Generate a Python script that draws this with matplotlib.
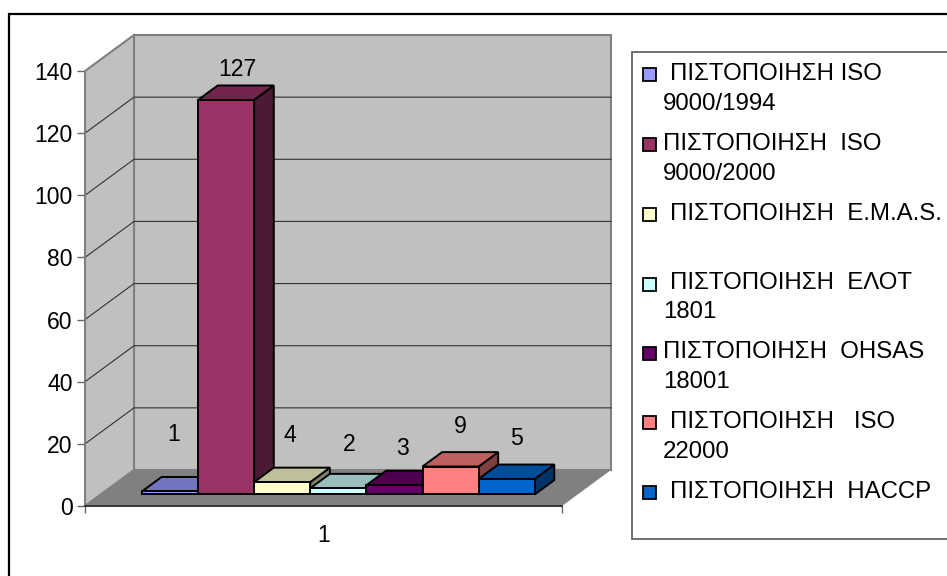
import matplotlib
matplotlib.use("Agg")
import matplotlib.pyplot as plt
from matplotlib.patches import Polygon, Rectangle

plt.rcParams['font.family'] = ['Liberation Sans', 'DejaVu Sans']

# data
values = [1, 127, 4, 2, 3, 9, 5]
face_colors = ['#9999FF', '#993366', '#FFFFCC', '#CCFFFF', '#660066', '#FF8080', '#0066CC']
top_colors = ['#7373BF', '#73264D', '#BFBF99', '#99BFBF', '#4D004D', '#BF6060', '#004D99']
side_colors = ['#4D4D80', '#4D1A33', '#808066', '#668080', '#330033', '#804040', '#003366']
y_ticks = [0, 20, 40, 60, 80, 100, 120, 140]
category = "1"
legend_lines = [
    ["ΠΙΣΤΟΠΟΙΗΣΗ ISO", "9000/1994"],
    ["ΠΙΣΤΟΠΟΙΗΣΗ  ISO", "9000/2000"],
    ["ΠΙΣΤΟΠΟΙΗΣΗ  E.M.A.S."],
    ["ΠΙΣΤΟΠΟΙΗΣΗ  ΕΛΟΤ", "1801"],
    ["ΠΙΣΤΟΠΟΙΗΣΗ  OHSAS", "18001"],
    ["ΠΙΣΤΟΠΟΙΗΣΗ   ISO", "22000"],
    ["ΠΙΣΤΟΠΟΙΗΣΗ  HACCP"],
]

# layout, pixels of the 947x576 picture
W, H = 947, 576
font_size = 16.6
legend_font_size = 17.3
front_left, front_right = 85, 562
front_bottom, front_top = 506, 71
depth_px_x, depth_px_y = 49, 36
bar_px = 56.1
first_bar_px = 142
bar_depth = (0.32, 0.72)
# labels were moved by hand in the original, offsets from the bar's back top edge
label_dx = [-16, -8, -12, -9, -12, -10, -10]
label_dy = [42, 16, 32, 29, 22, 26, 26]
legend_swatch_y = [74, 144, 214, 284, 353, 422, 492]
legend_text_x = [670, 663, 670, 670, 663, 670, 670]
legend_text_y = [74, 144, 214, 283, 352, 422, 492]
legend_line_gap = 29.5

fig = plt.figure(figsize=(W / 100, H / 100), dpi=100)

# page layer in pixel coordinates: frame and legend box
page = fig.add_axes([0, 0, 1, 1])
page.set_xlim(0, W)
page.set_ylim(H, 0)
page.axis("off")
page.add_patch(Rectangle((9, 14), W + 20, H + 20, fc='white', ec='black', lw=1.6, clip_on=False))
page.add_patch(Rectangle((632, 52), W, 487, fc='white', ec='#666666', lw=1.3, clip_on=False))

ax = fig.add_axes([front_left / W, 1 - front_bottom / H,
                   (front_right - front_left) / W, (front_bottom - front_top) / H])
px_y = (front_bottom - front_top) / 140.0
x_min = -(first_bar_px - front_left - bar_depth[0] * depth_px_x) / bar_px
x_max = x_min + (front_right - front_left) / bar_px
ax.set_xlim(x_min, x_max)
ax.set_ylim(0, 140)
ax.patch.set_visible(False)


def proj(x, v, d):
    # x in bar units, v in chart units, d is depth 0..1
    return (x + d * depth_px_x / bar_px, v + d * depth_px_y / px_y)


def poly(pts, fc, ec, lw, z=1):
    ax.add_patch(Polygon(pts, closed=True, fc=fc, ec=ec, lw=lw, clip_on=False,
                         joinstyle='miter', zorder=z))


# walls and floor
poly([proj(x_min, 0, 1), proj(x_max, 0, 1), proj(x_max, 140, 1), proj(x_min, 140, 1)],
     '#C0C0C0', '#808080', 1.5)
poly([proj(x_min, 0, 0), proj(x_min, 0, 1), proj(x_min, 140, 1), proj(x_min, 140, 0)],
     '#C0C0C0', '#808080', 1.5)
poly([proj(x_min, 0, 0), proj(x_max, 0, 0), proj(x_max, 0, 1), proj(x_min, 0, 1)],
     '#808080', 'none', 0)

for t in y_ticks[1:-1]:
    pts = [proj(x_min, t, 0), proj(x_min, t, 1), proj(x_max, t, 1)]
    ax.plot([p[0] for p in pts], [p[1] for p in pts], color='#333333', lw=0.8, zorder=1.5, clip_on=False)

# bars, left to right so later ones cover the earlier ones
d0, d1 = bar_depth
for i, v in enumerate(values):
    l, r = i, i + 1
    poly([proj(r, 0, d0), proj(r, 0, d1), proj(r, v, d1), proj(r, v, d0)],
         side_colors[i], 'black', 1.4, 2 + i * 0.1)
    poly([proj(l, v, d0), proj(r, v, d0), proj(r, v, d1), proj(l, v, d1)],
         top_colors[i], 'black', 1.4, 2 + i * 0.1)
    poly([proj(l, 0, d0), proj(r, 0, d0), proj(r, v, d0), proj(l, v, d0)],
         face_colors[i], 'black', 1.4, 2 + i * 0.1)
    xa, ya = proj(i + 0.5, v, d1)
    ax.annotate(str(v), (xa, ya), xytext=(label_dx[i] * 0.72, label_dy[i] * 0.72),
                textcoords='offset points', ha='center', va='center',
                fontsize=font_size, color='black', zorder=5, annotation_clip=False)

# axes lines and ticks
for s in ('top', 'right'):
    ax.spines[s].set_visible(False)
ax.spines['left'].set_color('#808080')
ax.spines['left'].set_linewidth(1.2)
ax.spines['left'].set_zorder(1.6)
ax.spines['bottom'].set_color('#333333')
ax.spines['bottom'].set_linewidth(1.4)
ax.spines['bottom'].set_zorder(1.6)
ax.set_yticks(y_ticks)
ax.tick_params(axis='y', length=6, width=1, color='#666666', labelsize=font_size, pad=3)
ax.set_xticks([x_min, x_max])
ax.set_xticklabels(['', ''])
ax.tick_params(axis='x', which='major', length=5, width=1, color='#666666')
ax.set_xticks([(x_min + x_max) / 2], labels=[category], minor=True)
ax.tick_params(axis='x', which='minor', length=0, labelsize=font_size, pad=13)

# legend
for i, lines in enumerate(legend_lines):
    page.add_patch(Rectangle((642.5, legend_swatch_y[i] - 6.5), 13, 13, fc=face_colors[i],
                             ec='black', lw=1.3, zorder=3))
    for j, line in enumerate(lines):
        x = legend_text_x[i] if j == 0 else 663
        page.text(x, legend_text_y[i] + j * legend_line_gap, line, fontsize=legend_font_size,
                  ha='left', va='center', color='black', clip_on=False)

fig.savefig("out.png", dpi=100)
